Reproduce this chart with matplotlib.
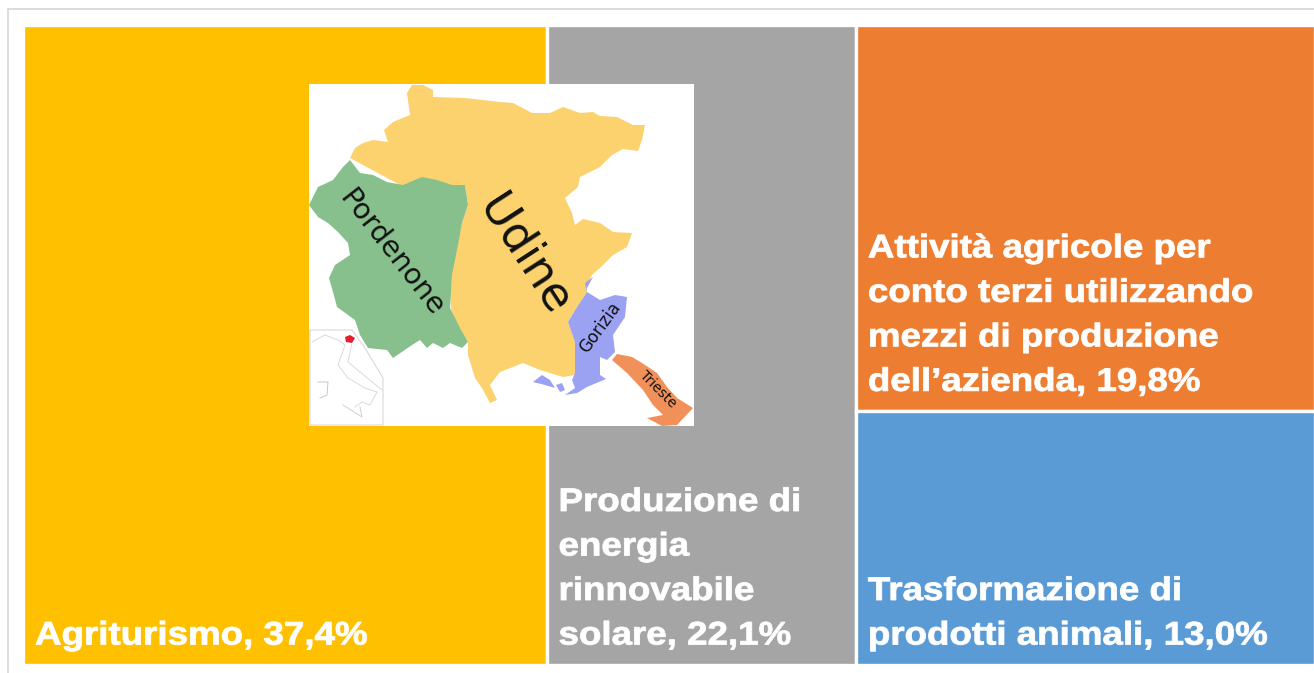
import matplotlib
matplotlib.use("Agg")
import matplotlib.pyplot as plt
from matplotlib.patches import Polygon, Rectangle
from matplotlib.patheffects import AbstractPathEffect
from matplotlib.transforms import Affine2D

categories = ["Agriturismo", "Produzione di energia rinnovabile solare",
              "Attività agricole per conto terzi", "Trasformazione di prodotti animali"]
values = [37.4, 22.1, 19.8, 13.0]
colors = ["#FFC000", "#A5A5A5", "#ED7D31", "#5B9BD5"]
labels = [
    ["Agriturismo, 37,4%"],
    ["Produzione di", "energia", "rinnovabile", "solare, 22,1%"],
    ["Attività agricole per", "conto terzi utilizzando", "mezzi di produzione", "dell’azienda, 19,8%"],
    ["Trasformazione di", "prodotti animali, 13,0%"],
]

# map outlines, in picture pixels
udine = [(350, 158), (355, 148), (363, 143), (373, 140), (388, 142), (384, 130), (393, 122), (410, 115),
         (407, 93), (412, 85), (423, 85), (433, 90), (433, 97), (465, 98), (500, 102), (513, 103),
         (532, 113), (550, 113), (563, 107), (580, 113), (593, 112), (600, 116), (617, 117), (633, 125),
         (645, 125), (642, 140), (638, 151), (623, 149), (612, 155), (600, 167), (580, 177), (578, 187),
         (565, 198), (572, 213), (575, 225), (583, 219), (600, 223), (613, 232), (632, 233), (627, 247),
         (613, 255), (603, 265), (592, 275), (586, 287), (587, 292), (577, 307), (568, 322), (575, 342),
         (578, 365), (575, 375), (563, 377), (540, 370), (523, 363), (513, 367), (500, 372), (490, 385),
         (497, 400), (490, 403), (482, 388), (475, 378), (468, 355), (468, 342), (452, 318), (450, 295),
         (453, 265), (462, 223), (468, 205), (465, 185), (400, 185)]
pordenone = [(350, 160), (360, 173), (373, 175), (387, 182), (403, 185), (422, 177), (437, 180), (452, 185),
             (465, 185), (468, 205), (462, 223), (458, 245), (452, 275), (450, 308), (460, 328),
             (468, 342), (462, 348), (450, 343), (443, 348), (433, 343), (427, 348), (420, 340), (412, 345),
             (393, 358), (387, 350), (368, 348), (360, 335), (355, 320), (337, 307), (333, 292), (329, 278),
             (335, 265), (350, 255), (348, 243), (338, 232), (328, 223), (318, 217), (309, 205), (318, 187),
             (333, 180), (343, 167)]
gorizia = [(593, 277), (587, 288), (587, 292), (600, 300), (615, 295), (627, 297), (625, 317), (613, 335),
           (615, 352), (607, 360), (600, 357), (600, 375), (606, 379), (587, 387), (577, 393), (565, 395),
           (575, 388), (572, 380), (575, 373), (575, 342), (568, 322), (577, 307), (587, 292), (585, 283)]
lagoon = [(533, 382), (542, 375), (550, 380), (555, 388), (545, 385)]
lagoon_east = [(556, 385), (562, 383), (565, 390), (560, 392)]
trieste = [(612, 360), (617, 354), (632, 357), (642, 363), (657, 373), (667, 387), (677, 398), (693, 408),
           (677, 425), (662, 426), (647, 418), (663, 415), (653, 405), (643, 390), (627, 373)]
italy_box = [(310, 330), (352, 330), (365, 348), (383, 378), (383, 425), (310, 425)]
italy_west = [(312, 342), (325, 335), (338, 340), (345, 345), (338, 365), (348, 378), (365, 388), (377, 392),
              (370, 405), (362, 402), (355, 407)]
italy_east = [(352, 343), (348, 362), (360, 372), (382, 390)]
sardinia = [(318, 382), (328, 382), (327, 395), (320, 398)]
sicily = [(343, 405), (362, 417), (360, 407)]
friuli = [(345, 337), (350, 335), (355, 338), (352, 343), (346, 342)]

map_text = [("Udine", 524, 256, -57, 33), ("Pordenone", 391, 253, -52, 20.5),
            ("Gorizia", 600, 328, 54, 12), ("Trieste", 658, 389, -45, 10)]


class Widen(AbstractPathEffect):
    # the reference text is wider and heavier than the font
    def __init__(self, factor, stroke):
        super().__init__()
        self.factor = factor
        self.stroke = stroke

    def draw_path(self, renderer, gc, tpath, affine, rgbFace=None):
        gc0 = renderer.new_gc()
        gc0.copy_properties(gc)
        gc0.set_linewidth(self.stroke)
        gc0.set_foreground(rgbFace)
        renderer.draw_path(gc0, tpath, Affine2D().scale(self.factor, 1) + affine, rgbFace)
        gc0.restore()


plt.rcParams["font.family"] = ["Liberation Sans", "DejaVu Sans"]
fig = plt.figure(figsize=(13.14, 6.73), dpi=100)
ax = fig.add_axes([0, 0, 1, 1])
ax.set_xlim(0, 1314)
ax.set_ylim(673, 0)
ax.axis("off")

# outer chart border, running off the picture
ax.plot([8, 8, 1314], [673, 9, 9], color="#DCDCDC", lw=1.4)

# treemap layout from the values
left, top, right, bottom = 23, 24.5, 1315, 664.5
total = sum(values)
w0 = (right - left) * values[0] / total
w1 = (right - left) * values[1] / total
w2 = (right - left) - w0 - w1
h2 = (bottom - top) * values[2] / (values[2] + values[3])
boxes = [
    (left, top, w0, bottom - top),
    (left + w0, top, w1, bottom - top),
    (left + w0 + w1, top, w2, h2),
    (left + w0 + w1, top + h2, w2, bottom - top - h2),
]
for box, color, lines in zip(boxes, colors, labels):
    x, y, w, h = box
    ax.add_patch(Rectangle((x, y), w, h, facecolor=color, edgecolor="white", lw=2.4))
    base = y + h - 20
    for i, line in enumerate(reversed(lines)):
        ax.text(x + 12, base - i * 44.5, line, color="white", fontsize=23.5, fontweight="bold",
                va="baseline", ha="left", path_effects=[Widen(1.125, 0.6)])

# inset map
ax.add_patch(Rectangle((309, 84), 385, 342, facecolor="white", edgecolor="none", zorder=3))
ax.add_patch(Polygon(italy_box, closed=True, facecolor="white", edgecolor="#D8D8D8", lw=0.8, zorder=4))
ax.plot(*zip(*italy_west), color="#DADADA", lw=0.7, zorder=4)
ax.plot(*zip(*italy_east), color="#DADADA", lw=0.7, zorder=4)
ax.plot(*zip(*sardinia), color="#C8C8C8", lw=0.7, zorder=4)
ax.plot(*zip(*sicily), color="#D0D0D0", lw=0.7, zorder=4)
ax.add_patch(Polygon(friuli, closed=True, facecolor="#E0202A", edgecolor="none", zorder=5))
ax.add_patch(Polygon(udine, closed=True, facecolor="#FCD26F", edgecolor="none", zorder=4))
ax.add_patch(Polygon(pordenone, closed=True, facecolor="#87C08C", edgecolor="none", zorder=5))
for shape in (gorizia, lagoon, lagoon_east):
    ax.add_patch(Polygon(shape, closed=True, facecolor="#9CA2F2", edgecolor="none", zorder=5))
ax.add_patch(Polygon(trieste, closed=True, facecolor="#F2905A", edgecolor="none", zorder=5))

for name, x, y, rot, size in map_text:
    ax.text(x, y, name, rotation=rot, rotation_mode="anchor", fontsize=size, color="#111111",
            family="DejaVu Sans", ha="center", va="center", zorder=6)

fig.savefig("out.png", dpi=100)
